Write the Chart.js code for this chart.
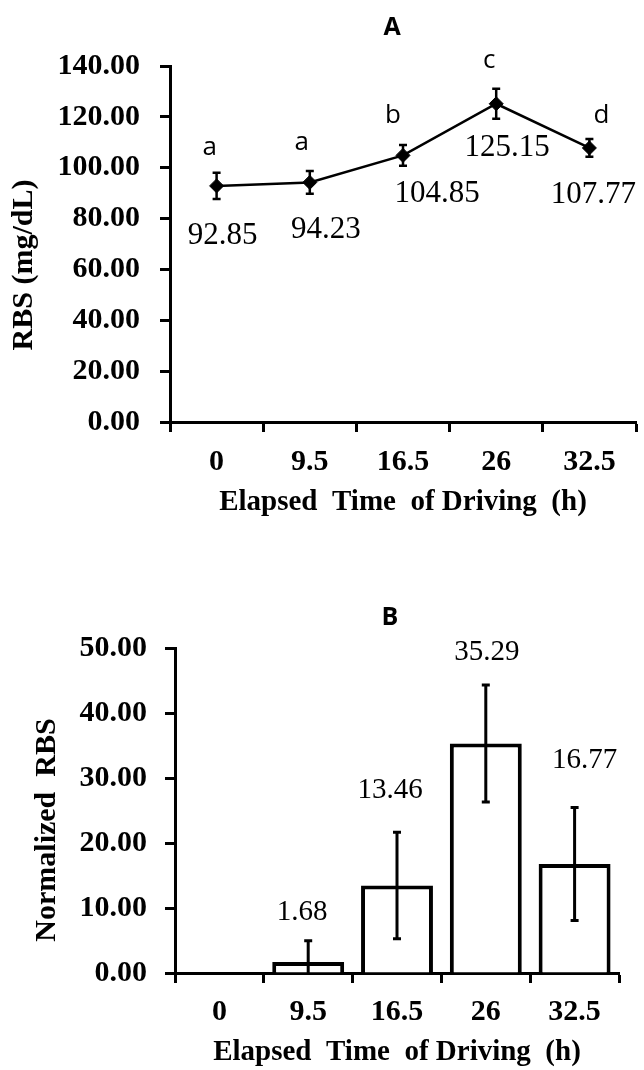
<!DOCTYPE html>
<html>
<head>
<meta charset="utf-8">
<title>RBS vs driving time</title>
<script src="https://cdn.jsdelivr.net/npm/chart.js@4.4.1/dist/chart.umd.min.js"></script>
<style>
  body { margin: 0; background: #fff; }
  canvas { position: absolute; left: 0; }
</style>
</head>
<body>
<canvas id="chartA" width="644" height="530" style="top:0px"></canvas>
<canvas id="chartB" width="644" height="510" style="top:560px"></canvas>
<script>
// elapsed driving time categories (h)
const hours = ["0", "9.5", "16.5", "26", "32.5"];

// panel A: random blood sugar, mean and error
const rbsMean = [92.85, 94.23, 104.85, 125.15, 107.77];
const rbsErr = [5.2, 4.5, 4.1, 5.9, 3.5];
const rbsGroup = ["a", "a", "b", "c", "d"];

// panel B: normalized RBS, mean and error
const normMean = [0, 1.68, 13.46, 35.29, 16.77];
const normErr = [0, 3.3, 8.2, 9.0, 8.7];

const SERIF = "'Liberation Serif', 'Times New Roman', serif";
const SANS = "'Open Sans', 'Liberation Sans', sans-serif";

function serifBold(size) {
    return { family: SERIF, size: size, weight: "bold" };
}

/* ---------- error bars, value labels, titles ---------- */

function annotations(id, cfg) {
    return {
        id: id,
        afterDatasetsDraw(chart) {
            const ctx = chart.ctx;
            const area = chart.chartArea;
            const y = chart.scales.y;
            const meta = chart.getDatasetMeta(0);
            const vals = chart.data.datasets[0].data;

            ctx.save();
            ctx.beginPath();
            ctx.rect(area.left, 0, area.right - area.left, area.bottom);
            ctx.clip();
            ctx.strokeStyle = "#000";
            ctx.lineWidth = cfg.errWidth;
            meta.data.forEach((el, i) => {
                const e = cfg.err[i];
                if (!e) return;
                const hi = y.getPixelForValue(vals[i] + e);
                const lo = y.getPixelForValue(vals[i] - e);
                ctx.beginPath();
                ctx.moveTo(el.x, hi);
                ctx.lineTo(el.x, lo);
                ctx.moveTo(el.x - cfg.cap, hi);
                ctx.lineTo(el.x + cfg.cap, hi);
                ctx.moveTo(el.x - cfg.cap, lo);
                ctx.lineTo(el.x + cfg.cap, lo);
                ctx.stroke();
            });
            ctx.restore();
        },
        afterDraw(chart) {
            const ctx = chart.ctx;
            const meta = chart.getDatasetMeta(0);
            const vals = chart.data.datasets[0].data;

            ctx.save();
            ctx.fillStyle = "#000";
            ctx.textAlign = "center";

            // value labels
            ctx.font = cfg.valueFont;
            ctx.textBaseline = "alphabetic";
            meta.data.forEach((el, i) => {
                if (!vals[i]) return;
                const n = cfg.valueNudge[i];
                ctx.fillText(vals[i].toFixed(2), el.x + n[0], el.y + n[1]);
            });

            // significance letters
            if (cfg.groups) {
                ctx.font = cfg.groupFont;
                meta.data.forEach((el, i) => {
                    const n = cfg.groupNudge[i];
                    ctx.fillText(cfg.groups[i], el.x + n[0], el.y + n[1]);
                });
            }

            // panel letter
            ctx.textBaseline = "middle";
            ctx.font = "bold 25px " + SANS;
            ctx.fillText(cfg.title[0], cfg.title[1], cfg.title[2]);

            // rotated y axis title
            ctx.font = "bold 30px " + SERIF;
            ctx.translate(cfg.yTitle[1], cfg.yTitle[2]);
            ctx.rotate(-Math.PI / 2);
            ctx.fillText(cfg.yTitle[0], 0, 0);
            ctx.restore();
        }
    };
}

function axisStyle(extra) {
    return Object.assign({
        grid: {
            drawOnChartArea: false,
            tickLength: 10,
            tickWidth: 3,
            tickColor: "#000"
        },
        border: { display: true, color: "#000", width: 3 }
    }, extra);
}

/* ---------- panel A ---------- */

new Chart(document.getElementById("chartA"), {
    type: "line",
    data: {
        labels: hours,
        datasets: [{
            data: rbsMean,
            borderColor: "#000",
            borderWidth: 2.5,
            tension: 0,
            pointStyle: "rectRot",
            pointRadius: 7,
            pointBackgroundColor: "#000",
            pointBorderColor: "#000",
            pointBorderWidth: 1
        }]
    },
    options: {
        responsive: false,
        animation: false,
        layout: { padding: { top: 66, right: 1, left: 0, bottom: 0 } },
        plugins: { legend: { display: false }, tooltip: { enabled: false } },
        scales: {
            x: axisStyle({
                offset: true,
                grid: { offset: true, drawOnChartArea: false, tickLength: 10, tickWidth: 3, tickColor: "#000" },
                ticks: { color: "#000", font: serifBold(30), padding: 12 },
                title: {
                    display: true,
                    text: "Elapsed  Time  of Driving  (h)",
                    color: "#000",
                    font: serifBold(29),
                    padding: { top: 0, bottom: 10 }
                },
                afterFit: s => { s.height = 108; }
            }),
            y: axisStyle({
                min: 0,
                max: 140,
                ticks: {
                    stepSize: 20,
                    color: "#000",
                    font: serifBold(30),
                    padding: 20,
                    callback: v => v.toFixed(2)
                },
                afterFit: s => { s.width = 170; }
            })
        }
    },
    plugins: [annotations("annotA", {
        err: rbsErr,
        errWidth: 2.5,
        cap: 4,
        valueFont: "31px " + SERIF,
        valueNudge: [[6, 58], [16, 56], [34, 47], [11, 52], [4, 55]],
        groups: rbsGroup,
        groupFont: "26px " + SANS,
        groupNudge: [[-7, -31], [-8, -32], [-10, -32], [-7, -36], [12, -25]],
        title: ["A", 392, 28],
        yTitle: ["RBS (mg/dL)", 24, 265]
    })]
});

/* ---------- panel B ---------- */

new Chart(document.getElementById("chartB"), {
    type: "bar",
    data: {
        labels: hours,
        datasets: [{
            data: normMean,
            backgroundColor: "#fff",
            borderColor: "#000",
            borderWidth: 4,
            categoryPercentage: 0.81,
            barPercentage: 1
        }]
    },
    options: {
        responsive: false,
        animation: false,
        layout: { padding: { top: 88, right: 25, left: 0, bottom: 0 } },
        plugins: { legend: { display: false }, tooltip: { enabled: false } },
        scales: {
            x: axisStyle({
                ticks: { color: "#000", font: serifBold(30), padding: 11 },
                title: {
                    display: true,
                    text: "Elapsed  Time  of Driving  (h)",
                    color: "#000",
                    font: serifBold(29),
                    padding: { top: 0, bottom: 0 }
                },
                afterFit: s => { s.height = 97; }
            }),
            y: axisStyle({
                min: 0,
                max: 50,
                ticks: {
                    stepSize: 10,
                    color: "#000",
                    font: serifBold(30),
                    padding: 18,
                    callback: v => v.toFixed(2)
                },
                afterFit: s => { s.width = 175; }
            })
        }
    },
    plugins: [annotations("annotB", {
        err: normErr,
        errWidth: 3,
        cap: 4,
        valueFont: "29px " + SERIF,
        valueNudge: [[0, 0], [-6, -42], [-7, -88], [1, -84], [10, -96]],
        groups: null,
        title: ["B", 390, 58],
        yTitle: ["Normalized  RBS", 47, 270]
    })]
});
</script>
</body>
</html>
